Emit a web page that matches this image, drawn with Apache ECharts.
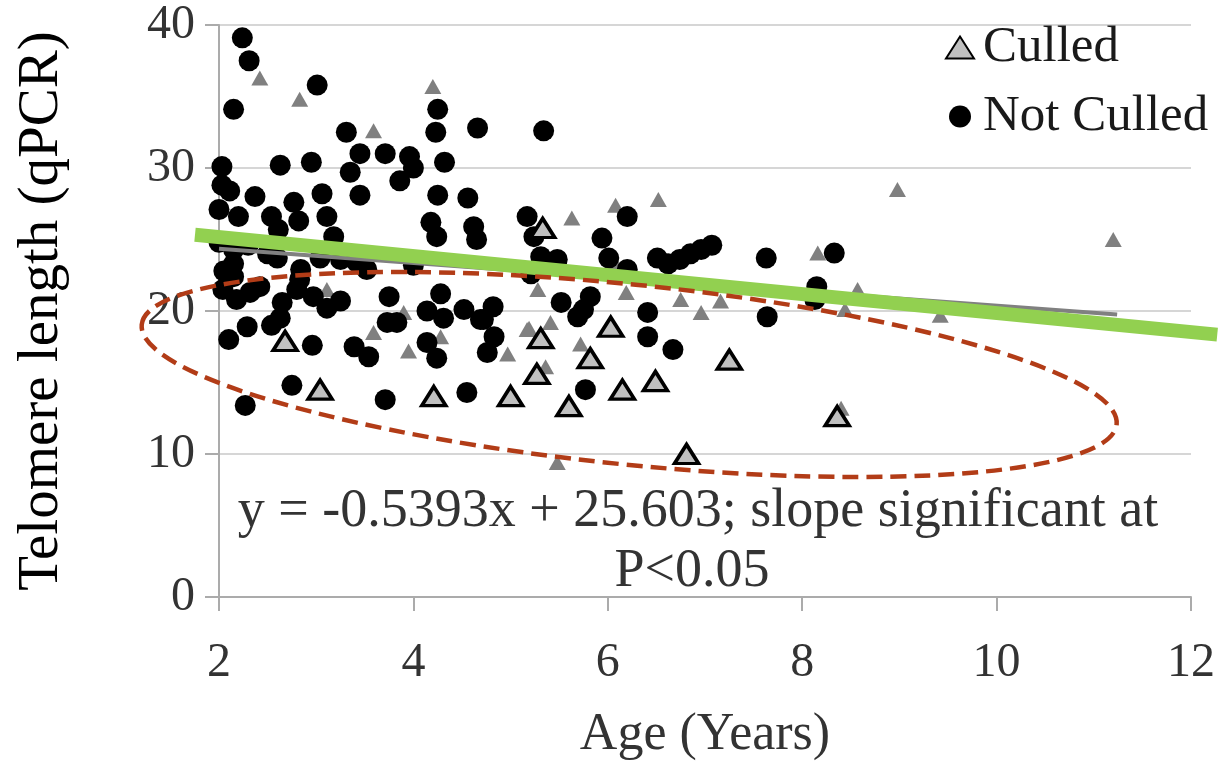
<!DOCTYPE html>
<html><head><meta charset="utf-8">
<script src="https://cdn.jsdelivr.net/npm/echarts@6/dist/echarts.min.js"></script>
<style>html,body{margin:0;padding:0;background:#fff}#c{width:1223px;height:766px}</style>
</head><body><div id="c"></div>
<script>
// ---- data ----
const notCulled = [
[2.24,39.1],[2.31,37.5],[2.15,34.1],[3.01,35.8],[3.31,32.5],[4.25,34.1],[4.23,32.5],[4.66,32.8],[5.34,32.6],
[2.03,30.1],[2.63,30.2],[2.95,30.4],[3.45,31.0],[3.35,29.7],[3.71,31.0],[3.96,30.8],[4.0,30.0],[3.86,29.1],[4.32,30.4],[3.45,28.1],[4.25,28.1],[4.56,27.9],
[2.03,28.8],[2.11,28.4],[2.0,27.1],[2.37,28.0],[2.77,27.6],[3.06,28.2],
[2.2,26.6],[2.54,26.6],[2.82,26.3],[3.11,26.6],[3.18,25.2],[4.18,26.2],[4.24,25.2],[4.62,25.9],[4.65,25.0],[2.61,25.7],[5.17,26.6],[5.24,25.2],[6.2,26.6],[5.94,25.1],[6.01,23.7],
[2.0,24.8],[2.15,24.3],[2.15,23.3],[2.05,22.8],[2.3,24.6],[2.5,24.0],[2.6,23.7],[3.04,23.7],[3.25,23.6],[3.42,23.4],[3.52,22.9],[4.0,23.2],[2.84,22.9],[2.15,22.4],[5.31,23.8],[5.48,23.6],[5.21,22.6],[6.2,22.9],[6.51,23.7],[6.62,23.3],[6.74,23.6],[6.85,24.0],[6.96,24.3],[7.07,24.6],[7.63,23.7],[8.33,24.05],
[2.04,21.5],[2.18,20.8],[2.32,21.3],[2.42,21.7],[2.65,20.6],[2.63,19.5],[2.54,19.0],[2.29,18.9],[2.1,18.0],[2.83,22.2],[2.8,21.5],[2.97,21.0],[3.11,20.2],[3.25,20.7],[2.96,17.6],[3.39,17.5],[3.54,16.8],[3.75,21.0],[3.73,19.2],[3.83,19.2],[4.28,21.2],[4.14,20.0],[4.31,19.5],[4.14,17.8],[4.24,16.7],[4.52,20.1],[4.69,19.4],[4.82,20.3],[4.83,18.2],[4.76,17.1],[4.72,19.4],[5.52,20.6],[5.69,19.6],[5.82,21.0],[5.75,20.1],[6.41,19.9],[6.41,18.2],[6.67,17.3],[7.64,19.6],[8.15,21.7],[8.13,20.8],
[2.75,14.8],[2.27,13.4],[3.71,13.8],[4.55,14.3],[5.77,14.5]
];
const culled = [
[2.68,17.9],[3.04,14.5],[4.21,14.05],[5.33,25.8],[5.31,18.1],[6.03,18.9],[5.82,16.7],[5.27,15.6],
[5.0,14.05],[5.6,13.35],[6.15,14.5],[6.49,15.1],[7.25,16.6],[6.81,10.0],[8.36,12.65]
];
const background = [
[2.42,36.3],[2.83,34.8],[3.59,32.6],[4.2,35.7],[8.98,28.5],[11.2,25.0],[6.08,27.4],[6.52,27.8],[5.63,26.5],
[5.28,21.5],[6.19,21.3],[6.75,20.8],[7.16,20.7],[6.96,19.9],[5.19,18.8],[5.41,19.2],[5.72,17.7],[4.97,17.0],
[5.36,16.1],[5.48,9.4],[6.07,23.4],[8.16,24.05],[8.57,21.5],[8.44,20.1],[9.42,19.7],[8.4,13.2],[3.9,19.9],
[3.59,18.5],[3.95,17.2],[4.28,18.2],[3.11,21.5],[5.17,18.7]
];
const grayTrend = [[2,24.35],[11.24,19.75]];
const greenTrend = [[1.753,25.33],[12.27,18.35]];
const annotationLines = ['y = -0.5393x + 25.603; slope significant at', 'P<0.05'];
const seriesNames = ['Culled', 'Not Culled'];
const axisTitles = {x: 'Age (Years)', y: 'Telomere length (qPCR)'};
const ellipseCenter = [6.22, 15.56];

const FONT = 'Liberation Serif';
const chart = echarts.init(document.getElementById('c'), null, {renderer: 'canvas'});
const axisLineStyle = {color: '#ababab', width: 2};
chart.setOption({
  animation: false,
  backgroundColor: '#fff',
  grid: {left: 219, right: 32, top: 25, bottom: 168},
  legend: {
    orient: 'vertical', left: 940, top: 17, itemGap: 18, itemWidth: 28, itemHeight: 22,
    data: [{name: seriesNames[0], icon: 'triangle'}, {name: seriesNames[1], icon: 'circle'}],
    textStyle: {fontFamily: FONT, fontSize: 51, color: '#1a1a1a', padding: [0, 0, 0, 4]}
  },
  xAxis: {
    type: 'value', min: 2, max: 12, interval: 2,
    name: axisTitles.x, nameLocation: 'middle', nameGap: 112,
    nameTextStyle: {fontFamily: FONT, fontSize: 52, color: '#333'},
    axisLine: {show: true, lineStyle: axisLineStyle},
    axisTick: {show: true, length: 14, lineStyle: axisLineStyle},
    splitLine: {show: false},
    axisLabel: {fontFamily: FONT, fontSize: 48, color: '#333', margin: 42}
  },
  yAxis: {
    type: 'value', min: 0, max: 40, interval: 10,
    name: axisTitles.y, nameLocation: 'middle', nameGap: 148,
    nameTextStyle: {fontFamily: FONT, fontSize: 57, color: '#000'},
    axisLine: {show: true, onZero: false, lineStyle: axisLineStyle},
    axisTick: {show: true, length: 14, lineStyle: axisLineStyle},
    splitLine: {show: true, lineStyle: {color: '#d6d6d6', width: 2}},
    axisLabel: {fontFamily: FONT, fontSize: 48, color: '#333', margin: 24}
  },
  series: [
    {name: 'background', type: 'scatter', data: background, symbol: 'triangle', symbolSize: [17, 15],
      itemStyle: {color: '#808080', opacity: 1}, z: 1, silent: true},
    {name: seriesNames[1], type: 'scatter', data: notCulled, symbol: 'circle', symbolSize: 21,
      itemStyle: {color: '#000', opacity: 1}, z: 2},
    {name: 'grayTrend', type: 'line', data: grayTrend, symbol: 'none', lineStyle: {color: '#808080', width: 4}, z: 3},
    {name: seriesNames[0], type: 'scatter', data: culled, symbol: 'triangle', symbolSize: [24, 19],
      itemStyle: {color: '#c0c0c0', borderColor: '#000', borderWidth: 3.5, opacity: 1}, z: 4}
  ]
});

const c = chart.convertToPixel({gridIndex: 0}, ellipseCenter);
const g0 = chart.convertToPixel({gridIndex: 0}, greenTrend[0]);
const g1 = chart.convertToPixel({gridIndex: 0}, greenTrend[1]);
chart.setOption({
  graphic: [
    {type: 'line', z: 90, shape: {x1: g0[0], y1: g0[1], x2: g1[0], y2: g1[1]},
      style: {stroke: '#92d050', lineWidth: 14}},
    {type: 'ellipse', x: c[0], y: c[1], rotation: -5.84 * Math.PI / 180, z: 100,
      shape: {cx: 0, cy: 0, rx: 490, ry: 90},
      style: {fill: null, stroke: '#b23c17', lineWidth: 4.5, lineDash: [16, 8]}},
    {type: 'text', x: 698, y: 512, z: 101,
      style: {text: annotationLines[0], font: '54px "Liberation Serif"', fill: '#333', align: 'center', verticalAlign: 'middle'}},
    {type: 'text', x: 692, y: 572, z: 101,
      style: {text: annotationLines[1], font: '54px "Liberation Serif"', fill: '#333', align: 'center', verticalAlign: 'middle'}}
  ]
});
</script>
</body></html>
